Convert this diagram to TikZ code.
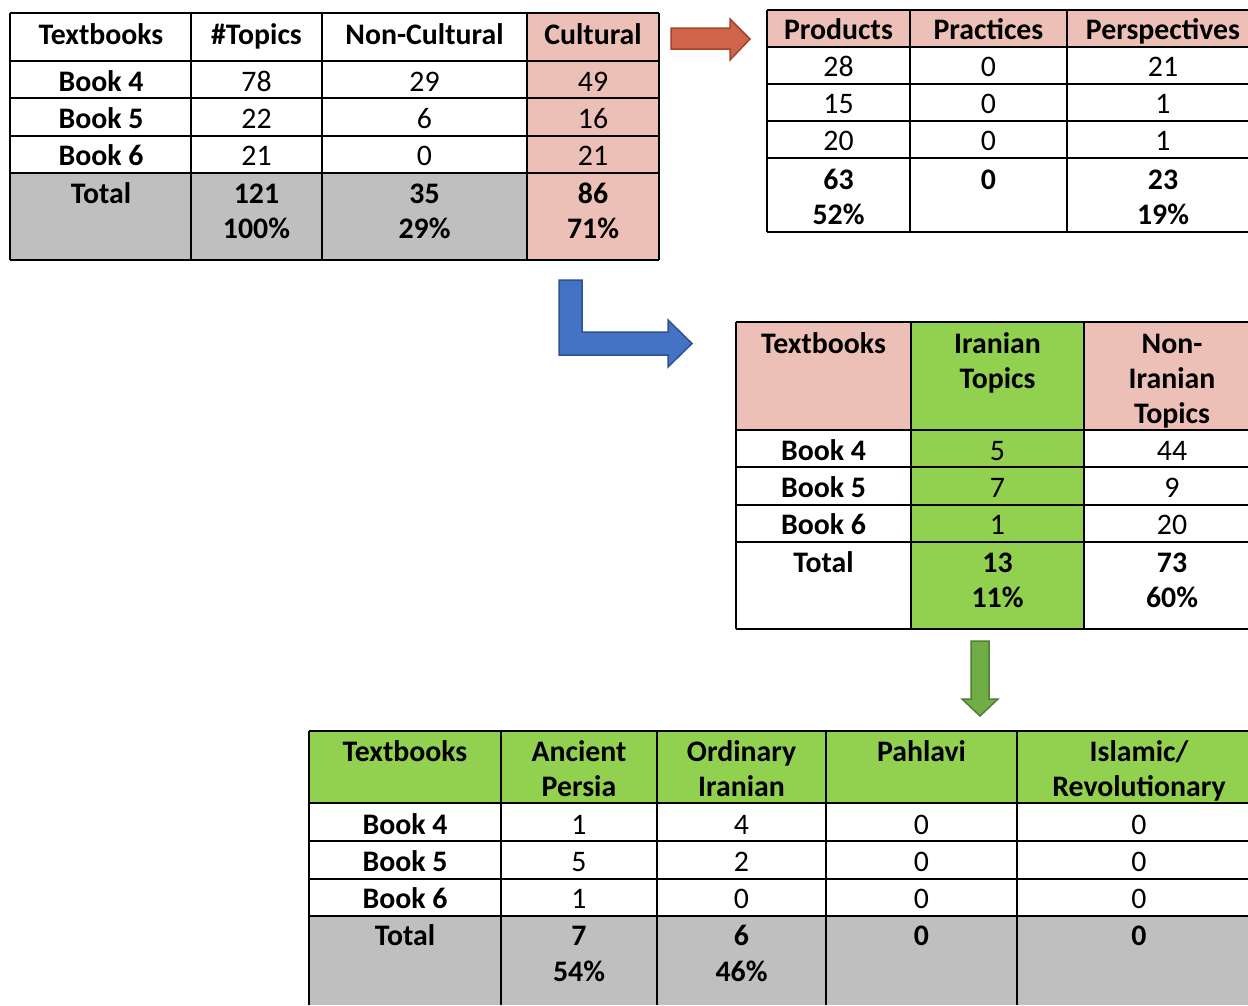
\documentclass[tikz,border=0pt]{standalone}
\usepackage{fontspec}
\setmainfont{Carlito}
\definecolor{pinkc}{HTML}{ECBFB7}
\definecolor{greenc}{HTML}{92D050}
\definecolor{grayc}{HTML}{BFBFBF}
\definecolor{redfill}{HTML}{D0644B}
\definecolor{reddraw}{HTML}{A3432C}
\definecolor{bluefill}{HTML}{4472C4}
\definecolor{bluedraw}{HTML}{2F528F}
\definecolor{grfill}{HTML}{70AD47}
\definecolor{grdraw}{HTML}{507E32}
\newcommand\myfs{\fontsize{29.8}{35}\selectfont}
\tikzset{
  hd/.style={font=\myfs\bfseries, anchor=base, inner sep=0pt, align=center, yshift=-1pt},
  dt/.style={font=\myfs, anchor=base, inner sep=0pt, yshift=-1pt},
  tl/.style={line width=1.3pt, draw=black},
  blk/.style={line width=1.5pt, line join=miter}
}
\begin{document}
\begin{tikzpicture}[x=1pt,y=-1pt]
\useasboundingbox (0,0) rectangle (1248,1005);
% ---------------- Table 1 ----------------
\fill[pinkc] (527,13) rectangle (659,260);
\fill[grayc] (10,173) rectangle (527,260);
\foreach \yy in {13,61,98,136,173,260} \draw[tl] (10,\yy) -- (659,\yy);
\foreach \xx in {10,191,322,527,659} \draw[tl] (\xx,13) -- (\xx,260);
\node[hd] (a00) at (101,43) {Textbooks};
\node[hd] (a01) at (256.5,43) {\#Topics};
\node[hd] (a02) at (424.5,43) {Non-Cultural};
\node[hd] (a03) at (593,43) {Cultural};
\node[hd] (a10) at (101,90) {Book 4};
\node[dt] (a11) at (256.5,90) {78};
\node[dt] (a12) at (424.5,90) {29};
\node[dt] (a13) at (593,90) {49};
\node[hd] (a20) at (101,127) {Book 5};
\node[dt] (a21) at (256.5,127) {22};
\node[dt] (a22) at (424.5,127) {6};
\node[dt] (a23) at (593,127) {16};
\node[hd] (a30) at (101,164) {Book 6};
\node[dt] (a31) at (256.5,164) {21};
\node[dt] (a32) at (424.5,164) {0};
\node[dt] (a33) at (593,164) {21};
\node[hd] (a40) at (101,202) {Total};
\node[hd] (a41) at (256.5,202) {121};
\node[hd] (a41b) at (256.5,237) {100\%};
\node[hd] (a42) at (424.5,202) {35};
\node[hd] (a42b) at (424.5,237) {29\%};
\node[hd] (a43) at (593,202) {86};
\node[hd] (a43b) at (593,237) {71\%};
% ---------------- Table 2 ----------------
\fill[pinkc] (767,10) rectangle (1248,47);
\foreach \yy in {10,47,84,121,158,232} \draw[tl] (767,\yy) -- (1248,\yy);
\foreach \xx in {767,910,1067} \draw[tl] (\xx,10) -- (\xx,232);
\node[hd] (b00) at (838.5,38) {Products};
\node[hd] (b01) at (988.5,38) {Practices};
\node[hd] (b02) at (1163,38) {Perspectives};
\node[dt] (b10) at (838.5,75) {28};
\node[dt] (b11) at (988.5,75) {0};
\node[dt] (b12) at (1163,75) {21};
\node[dt] (b20) at (838.5,112) {15};
\node[dt] (b21) at (988.5,112) {0};
\node[dt] (b22) at (1163,112) {1};
\node[dt] (b30) at (838.5,149) {20};
\node[dt] (b31) at (988.5,149) {0};
\node[dt] (b32) at (1163,149) {1};
\node[hd] (b40) at (838.5,188) {63};
\node[hd] (b40b) at (838.5,223) {52\%};
\node[hd] (b41) at (988.5,188) {0};
\node[hd] (b42) at (1163,188) {23};
\node[hd] (b42b) at (1163,223) {19\%};
% ---------------- Table 3 ----------------
\fill[pinkc] (736,322) rectangle (911,430);
\fill[pinkc] (1084,322) rectangle (1248,430);
\fill[greenc] (911,322) rectangle (1084,629);
\foreach \yy in {322,430,467,505,542,629} \draw[tl] (736,\yy) -- (1248,\yy);
\foreach \xx in {736,911,1084} \draw[tl] (\xx,322) -- (\xx,629);
\node[hd] (c00) at (823.5,352) {Textbooks};
\node[hd] (c01) at (997.5,352) {Iranian};
\node[hd] (c01b) at (997.5,387) {Topics};
\node[hd] (c02) at (1172,352) {Non-};
\node[hd] (c02b) at (1172,387) {Iranian};
\node[hd] (c02c) at (1172,422) {Topics};
\node[hd] (c10) at (823.5,459) {Book 4};
\node[dt] (c11) at (997.5,459) {5};
\node[dt] (c12) at (1172,459) {44};
\node[hd] (c20) at (823.5,496) {Book 5};
\node[dt] (c21) at (997.5,496) {7};
\node[dt] (c22) at (1172,496) {9};
\node[hd] (c30) at (823.5,533) {Book 6};
\node[dt] (c31) at (997.5,533) {1};
\node[dt] (c32) at (1172,533) {20};
\node[hd] (c40) at (823.5,571) {Total};
\node[hd] (c41) at (997.5,571) {13};
\node[hd] (c41b) at (997.5,606) {11\%};
\node[hd] (c42) at (1172,571) {73};
\node[hd] (c42b) at (1172,606) {60\%};
% ---------------- Table 4 ----------------
\fill[greenc] (309,731) rectangle (1248,803);
\fill[grayc] (309,916) rectangle (1248,1005);
\foreach \yy in {731,803,879,916} \draw[tl] (309,\yy) -- (1248,\yy);
\draw[tl, line width=2pt] (309,841) -- (1248,841);
\foreach \xx in {309,501,657,826,1017} \draw[tl] (\xx,731) -- (\xx,1005);
\node[hd] (d00) at (405,760) {Textbooks};
\node[hd] (d01) at (579,760) {Ancient};
\node[hd] (d01b) at (579,795) {Persia};
\node[hd] (d02) at (741.5,760) {Ordinary};
\node[hd] (d02b) at (741.5,795) {Iranian};
\node[hd] (d03) at (921.5,760) {Pahlavi};
\node[hd] (d04) at (1139,760) {Islamic/};
\node[hd] (d04b) at (1139,795) {Revolutionary};
\node[hd] (d10) at (405,833) {Book 4};
\node[dt] (d11) at (579,833) {1};
\node[dt] (d12) at (741.5,833) {4};
\node[dt] (d13) at (921.5,833) {0};
\node[dt] (d14) at (1139,833) {0};
\node[hd] (d20) at (405,870) {Book 5};
\node[dt] (d21) at (579,870) {5};
\node[dt] (d22) at (741.5,870) {2};
\node[dt] (d23) at (921.5,870) {0};
\node[dt] (d24) at (1139,870) {0};
\node[hd] (d30) at (405,907) {Book 6};
\node[dt] (d31) at (579,907) {1};
\node[dt] (d32) at (741.5,907) {0};
\node[dt] (d33) at (921.5,907) {0};
\node[dt] (d34) at (1139,907) {0};
\node[hd] (d40) at (405,944) {Total};
\node[hd] (d41) at (579,944) {7};
\node[hd] (d41b) at (579,980) {54\%};
\node[hd] (d42) at (741.5,944) {6};
\node[hd] (d42b) at (741.5,980) {46\%};
\node[hd] (d43) at (921.5,944) {0};
\node[hd] (d44) at (1139,944) {0};
% ---------------- Arrows ----------------
\draw[blk, fill=redfill, draw=reddraw]
  (671,28) -- (730,28) -- (730,19) -- (750,39) -- (730,60) -- (730,49) -- (671,49) -- cycle;
\draw[blk, fill=bluefill, draw=bluedraw]
  (559,280) -- (582,280) -- (582,332) -- (668,332) -- (668,320) -- (692,343.5)
  -- (668,367) -- (668,355) -- (559,355) -- cycle;
\draw[blk, fill=grfill, draw=grdraw]
  (971,641) -- (989,641) -- (989,699) -- (998,699) -- (980,716) -- (962,699) -- (971,699) -- cycle;
\end{tikzpicture}
\end{document}
